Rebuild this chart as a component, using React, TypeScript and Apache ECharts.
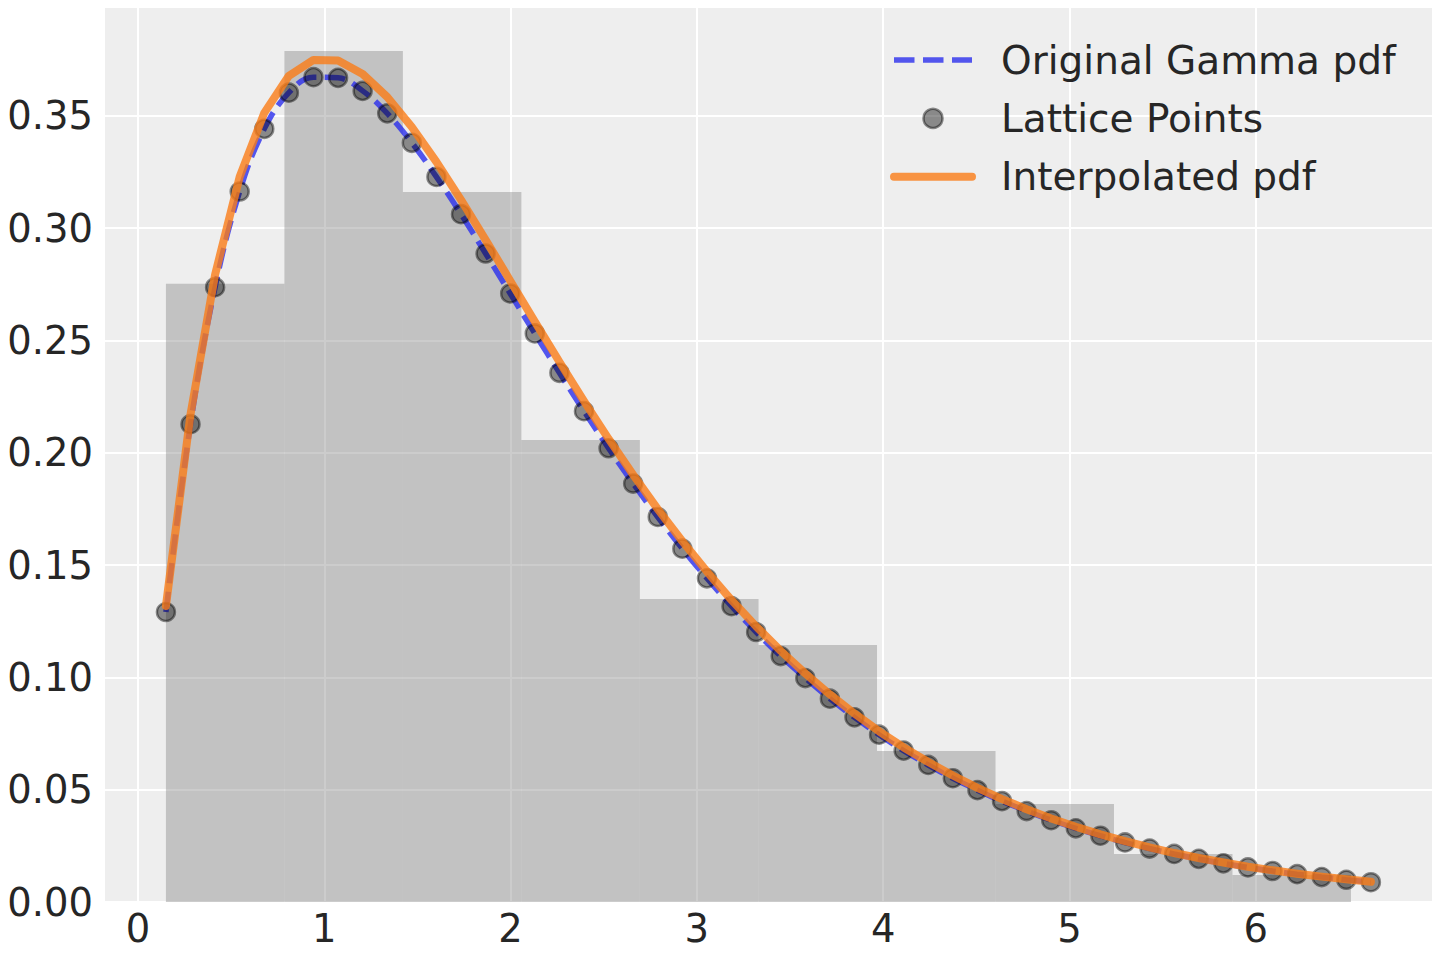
import React, { useEffect, useRef } from "react";
import * as echarts from "echarts";

const FONT = "DejaVu Sans";
const TEXT_COLOR = "#262626";

// Lattice points (x, pdf)
const latticeX = [
  0.15, 0.282, 0.414, 0.546, 0.678, 0.81, 0.942, 1.074, 1.206, 1.338,
  1.47, 1.602, 1.734, 1.866, 1.998, 2.13, 2.262, 2.394, 2.526, 2.658,
  2.79, 2.922, 3.054, 3.186, 3.318, 3.45, 3.582, 3.714, 3.846, 3.978,
  4.11, 4.242, 4.374, 4.506, 4.638, 4.77, 4.902, 5.034, 5.166, 5.298,
  5.43, 5.562, 5.694, 5.826, 5.958, 6.09, 6.222, 6.354, 6.486, 6.618,
];
const latticeY = [
  0.1291, 0.2127, 0.2737, 0.3163, 0.3442, 0.3603, 0.3672, 0.3669, 0.3611, 0.3511,
  0.338, 0.3228, 0.3062, 0.2887, 0.2709, 0.2531, 0.2356, 0.2185, 0.202, 0.1863,
  0.1714, 0.1573, 0.1441, 0.1317, 0.1202, 0.1095, 0.0997, 0.0905, 0.0822, 0.0745,
  0.0674, 0.061, 0.0551, 0.0498, 0.0449, 0.0405, 0.0364, 0.0328, 0.0295, 0.0265,
  0.0238, 0.0214, 0.0192, 0.0172, 0.0154, 0.0138, 0.0124, 0.0111, 0.0099, 0.0088,
];
// Interpolated pdf values at the lattice x positions
const interpY = [
  0.1318, 0.2171, 0.2793, 0.3229, 0.3513, 0.3678, 0.3749, 0.3746, 0.3686, 0.3584,
  0.345, 0.3295, 0.3126, 0.2948, 0.2766, 0.2584, 0.2405, 0.223, 0.2062, 0.1902,
  0.1749, 0.1606, 0.1471, 0.1344, 0.1227, 0.1118, 0.1017, 0.0924, 0.0839, 0.076,
  0.0688, 0.0623, 0.0563, 0.0508, 0.0458, 0.0413, 0.0372, 0.0335, 0.0301, 0.0271,
  0.0243, 0.0218, 0.0196, 0.0176, 0.0157, 0.0141, 0.0126, 0.0113, 0.0101, 0.009,
];
// Histogram
const binEdges = [0.15, 0.786, 1.422, 2.058, 2.694, 3.331, 3.967, 4.603, 5.239, 5.875, 6.511];
const binHeights = [0.2752, 0.3789, 0.3161, 0.2057, 0.1349, 0.1144, 0.0672, 0.0436, 0.0214, 0.012];

const xTicks = [0, 1, 2, 3, 4, 5, 6];
const yTicks = [0, 0.05, 0.1, 0.15, 0.2, 0.25, 0.3, 0.35];

const SERIES_GAMMA = "Original Gamma pdf";
const SERIES_LATTICE = "Lattice Points";
const SERIES_INTERP = "Interpolated pdf";

const BLUE = "rgba(42,46,236,0.8)";
const ORANGE = "rgba(250,124,23,0.8)";

export default function App() {
  const ref = useRef<HTMLDivElement>(null);

  useEffect(() => {
    document.body.style.margin = "0";
    if (!ref.current) return;
    const chart = echarts.init(ref.current, undefined, { renderer: "svg" });

    const histData = binHeights.map((h, i) => [binEdges[i], binEdges[i + 1], h]);
    const gammaData = latticeX.map((x, i) => [x, latticeY[i]]);
    const interpData = latticeX.map((x, i) => [x, interpY[i]]);

    chart.setOption({
      animation: false,
      backgroundColor: "#ffffff",
      grid: {
        left: 105,
        right: 8,
        top: 8,
        bottom: 58,
        show: true,
        backgroundColor: "#eeeeee",
        borderWidth: 0,
        containLabel: false,
      },
      xAxis: {
        type: "value",
        min: -0.177,
        max: 6.946,
        splitNumber: 7,
        axisLine: { show: false },
        axisTick: { show: false, customValues: xTicks },
        splitLine: { show: true, lineStyle: { color: "#ffffff", width: 2 } },
        axisLabel: {
          customValues: xTicks,
          fontSize: 38.5,
          fontFamily: FONT,
          color: TEXT_COLOR,
          margin: 7,
          formatter: (v: number) => String(v),
        },
      },
      yAxis: {
        type: "value",
        min: 0,
        max: 0.398,
        interval: 0.05,
        axisLine: { show: false },
        axisTick: { show: false, customValues: yTicks },
        splitLine: { show: true, lineStyle: { color: "#ffffff", width: 2 } },
        axisLabel: {
          customValues: yTicks,
          fontSize: 38.5,
          fontFamily: FONT,
          color: TEXT_COLOR,
          margin: 12,
          formatter: (v: number) => v.toFixed(2),
        },
      },
      legend: {
        orient: "vertical",
        left: 890,
        top: 40,
        padding: 0,
        itemWidth: 78,
        itemHeight: 19,
        itemGap: 18.4,
        selectedMode: false,
        data: [
          { name: SERIES_GAMMA, itemStyle: { opacity: 0, color: "rgba(0,0,0,0)", borderWidth: 0 } },
          { name: SERIES_LATTICE },
          { name: SERIES_INTERP, itemStyle: { opacity: 0, color: "rgba(0,0,0,0)", borderWidth: 0 } },
        ],
        textStyle: {
          fontSize: 39,
          fontFamily: FONT,
          color: TEXT_COLOR,
          lineHeight: 40,
          padding: [0, 0, 0, 24],
        },
        lineStyle: { width: "inherit" },
        itemStyle: { borderWidth: "inherit" },
      },
      series: [
        {
          type: "custom",
          name: "hist",
          silent: true,
          data: histData,
          encode: { x: [0, 1], y: 2 },
          renderItem: (_params: any, api: any) => {
            const x0 = api.value(0);
            const x1 = api.value(1);
            const h = api.value(2);
            const p0 = api.coord([x0, h]);
            const p1 = api.coord([x1, 0]);
            return {
              type: "rect",
              shape: { x: p0[0], y: p0[1], width: p1[0] - p0[0], height: p1[1] - p0[1] },
              style: { fill: "rgba(128,128,128,0.4)" },
            };
          },
          z: 1,
        },
        {
          type: "line",
          name: SERIES_GAMMA,
          data: gammaData,
          symbol: "none",
          smooth: 0.4,
          silent: true,
          lineStyle: { color: BLUE, width: 5.5, type: [20.5, 8.5] },
          itemStyle: { color: BLUE },
          z: 2,
        },
        {
          type: "scatter",
          name: SERIES_LATTICE,
          data: gammaData,
          symbol: "circle",
          symbolSize: 18,
          silent: true,
          itemStyle: {
            color: "rgba(0,0,0,0.53)",
            borderColor: "rgba(0,0,0,0.55)",
            borderWidth: 2.5,
          },
          z: 3,
        },
        {
          type: "line",
          name: SERIES_INTERP,
          data: interpData,
          symbol: "none",
          silent: true,
          lineStyle: { color: ORANGE, width: 8, join: "round", cap: "round" },
          itemStyle: { color: ORANGE },
          z: 4,
        },
      ],
    });

    return () => chart.dispose();
  }, []);

  return <div ref={ref} style={{ width: 1440, height: 960 }} />;
}
